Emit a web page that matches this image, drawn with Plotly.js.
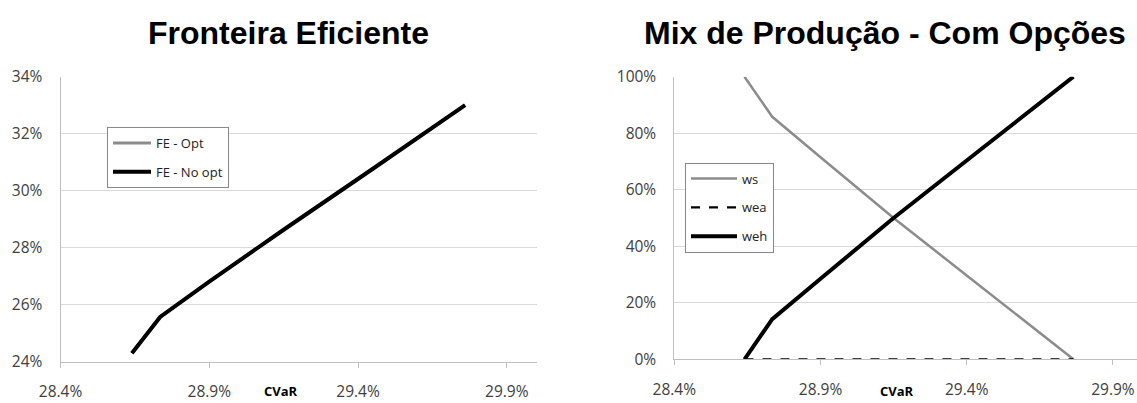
<!DOCTYPE html>
<html>
<head>
<meta charset="utf-8">
<script src="https://cdn.plot.ly/plotly-3.0.1.min.js"></script>
<style>html,body{margin:0;padding:0;background:#fff;}#chart{width:1137px;height:403px;}</style>
</head>
<body>
<div id="chart"></div>
<script>
// ---- data (percent values) ----
const cvarFE = [28.64, 28.735, 28.9, 29.15, 29.45, 29.76];
const feNoOpt = [24.3, 25.57, 26.81, 28.63, 30.77, 33.0];
const feOpt = [24.3, 25.57, 26.81, 28.63, 30.77, 33.0];

const cvarMix = [28.64, 28.735, 28.9, 29.15, 29.45, 29.765];
const ws  = [100, 85.8, 71.5, 50, 25.6, 0];
const wea = [0, 0, 0, 0, 0, 0];
const weh = [0, 14.2, 28.5, 50, 74.4, 100];

const xTickVals = [28.4, 28.9, 29.4, 29.9];
const titles = ['Fronteira Eficiente', 'Mix de Produção - Com Opções'];
const xTitle = 'CVaR';

const tickFont = {family: 'Open Sans, Noto Sans, sans-serif', size: 15.5, color: '#404040'};
const legFont = {family: 'Open Sans, Noto Sans, sans-serif', size: 13, color: '#222'};

const traces = [
  {x: cvarFE, y: feOpt, mode: 'lines', name: 'FE - Opt', line: {color: '#8c8c8c', width: 3},
   xaxis: 'x', yaxis: 'y', legend: 'legend', legendgroup: 'a'},
  {x: cvarFE, y: feNoOpt, mode: 'lines', name: 'FE - No opt', line: {color: '#000', width: 4},
   xaxis: 'x', yaxis: 'y', legend: 'legend', legendgroup: 'b'},
  {x: cvarMix, y: ws, mode: 'lines', name: 'ws', line: {color: '#8c8c8c', width: 2.5},
   xaxis: 'x2', yaxis: 'y2', legend: 'legend2', legendgroup: 'c'},
  {x: cvarMix, y: wea, mode: 'lines', name: 'wea', line: {color: '#000', width: 2.2, dash: 'dash'},
   xaxis: 'x2', yaxis: 'y2', legend: 'legend2', legendgroup: 'd'},
  {x: cvarMix, y: weh, mode: 'lines', name: 'weh', line: {color: '#000', width: 4},
   xaxis: 'x2', yaxis: 'y2', legend: 'legend2', legendgroup: 'e'}
];

const W = 1137, H = 403;
function px(v){return v / W;}
function py(v){return 1 - v / H;}

const xBase = {
  tickvals: xTickVals, ticktext: xTickVals.map(v => v.toFixed(1) + '%'),
  showgrid: false, zeroline: false, showline: true, linecolor: '#bfbfbf', linewidth: 1,
  ticks: 'outside', ticklen: 5, tickcolor: '#bfbfbf', tickfont: tickFont,
  ticklabelstandoff: 11, fixedrange: true
};
const yBase = {
  showgrid: true, gridcolor: '#d9d9d9', gridwidth: 1, zeroline: false,
  showline: true, linecolor: '#bfbfbf', linewidth: 1, ticks: '', tickfont: tickFont,
  ticksuffix: '%', ticklabelstandoff: 14, fixedrange: true
};

const layout = {
  width: W, height: H, margin: {l: 0, r: 0, t: 0, b: 0},
  paper_bgcolor: '#fff', plot_bgcolor: '#fff', showlegend: true,
  xaxis: Object.assign({}, xBase, {domain: [px(60.5), px(536.5)], range: [28.4, 30.0], anchor: 'y'}),
  yaxis: Object.assign({}, yBase, {domain: [py(361.7), py(76.7)], range: [24, 34], dtick: 2, tick0: 24, anchor: 'x'}),
  xaxis2: Object.assign({}, xBase, {domain: [px(674.3), 1], range: [28.4, 28.4 + (1137 - 674.3) / 146.2 * 0.5], anchor: 'y2'}),
  yaxis2: Object.assign({}, yBase, {domain: [py(359.3), py(76.7)], range: [0, 100], dtick: 20, tick0: 0, anchor: 'x2'}),
  legend: {x: px(107), y: py(127), xanchor: 'left', yanchor: 'top', bgcolor: '#fff',
    bordercolor: '#888', borderwidth: 1, font: legFont, traceorder: 'grouped', tracegroupgap: 9,
    itemwidth: 38},
  legend2: {x: px(685), y: py(162.5), xanchor: 'left', yanchor: 'top', bgcolor: '#fff',
    bordercolor: '#888', borderwidth: 1, font: legFont, traceorder: 'grouped', tracegroupgap: 9,
    itemwidth: 46},
  annotations: [
    {text: '<b>' + titles[0] + '</b>', x: px(288.5), y: py(32.5), xref: 'paper', yref: 'paper',
     xanchor: 'center', yanchor: 'middle', showarrow: false,
     font: {family: 'Liberation Sans, Arial, sans-serif', size: 32, color: '#000'}},
    {text: '<b>' + titles[1] + '</b>', x: px(885), y: py(32.5), xref: 'paper', yref: 'paper',
     xanchor: 'center', yanchor: 'middle', showarrow: false,
     font: {family: 'Liberation Sans, Arial, sans-serif', size: 32, color: '#000'}},
    {text: '<b>' + xTitle + '</b>', x: px(281), y: py(402), xref: 'paper', yref: 'paper',
     xanchor: 'center', yanchor: 'bottom', showarrow: false,
     font: {family: 'Open Sans, Noto Sans, sans-serif', size: 13, color: '#000'}},
    {text: '<b>' + xTitle + '</b>', x: px(897), y: py(402), xref: 'paper', yref: 'paper',
     xanchor: 'center', yanchor: 'bottom', showarrow: false,
     font: {family: 'Open Sans, Noto Sans, sans-serif', size: 13, color: '#000'}}
  ]
};

Plotly.newPlot('chart', traces, layout, {displayModeBar: false, staticPlot: true});
</script>
</body>
</html>
